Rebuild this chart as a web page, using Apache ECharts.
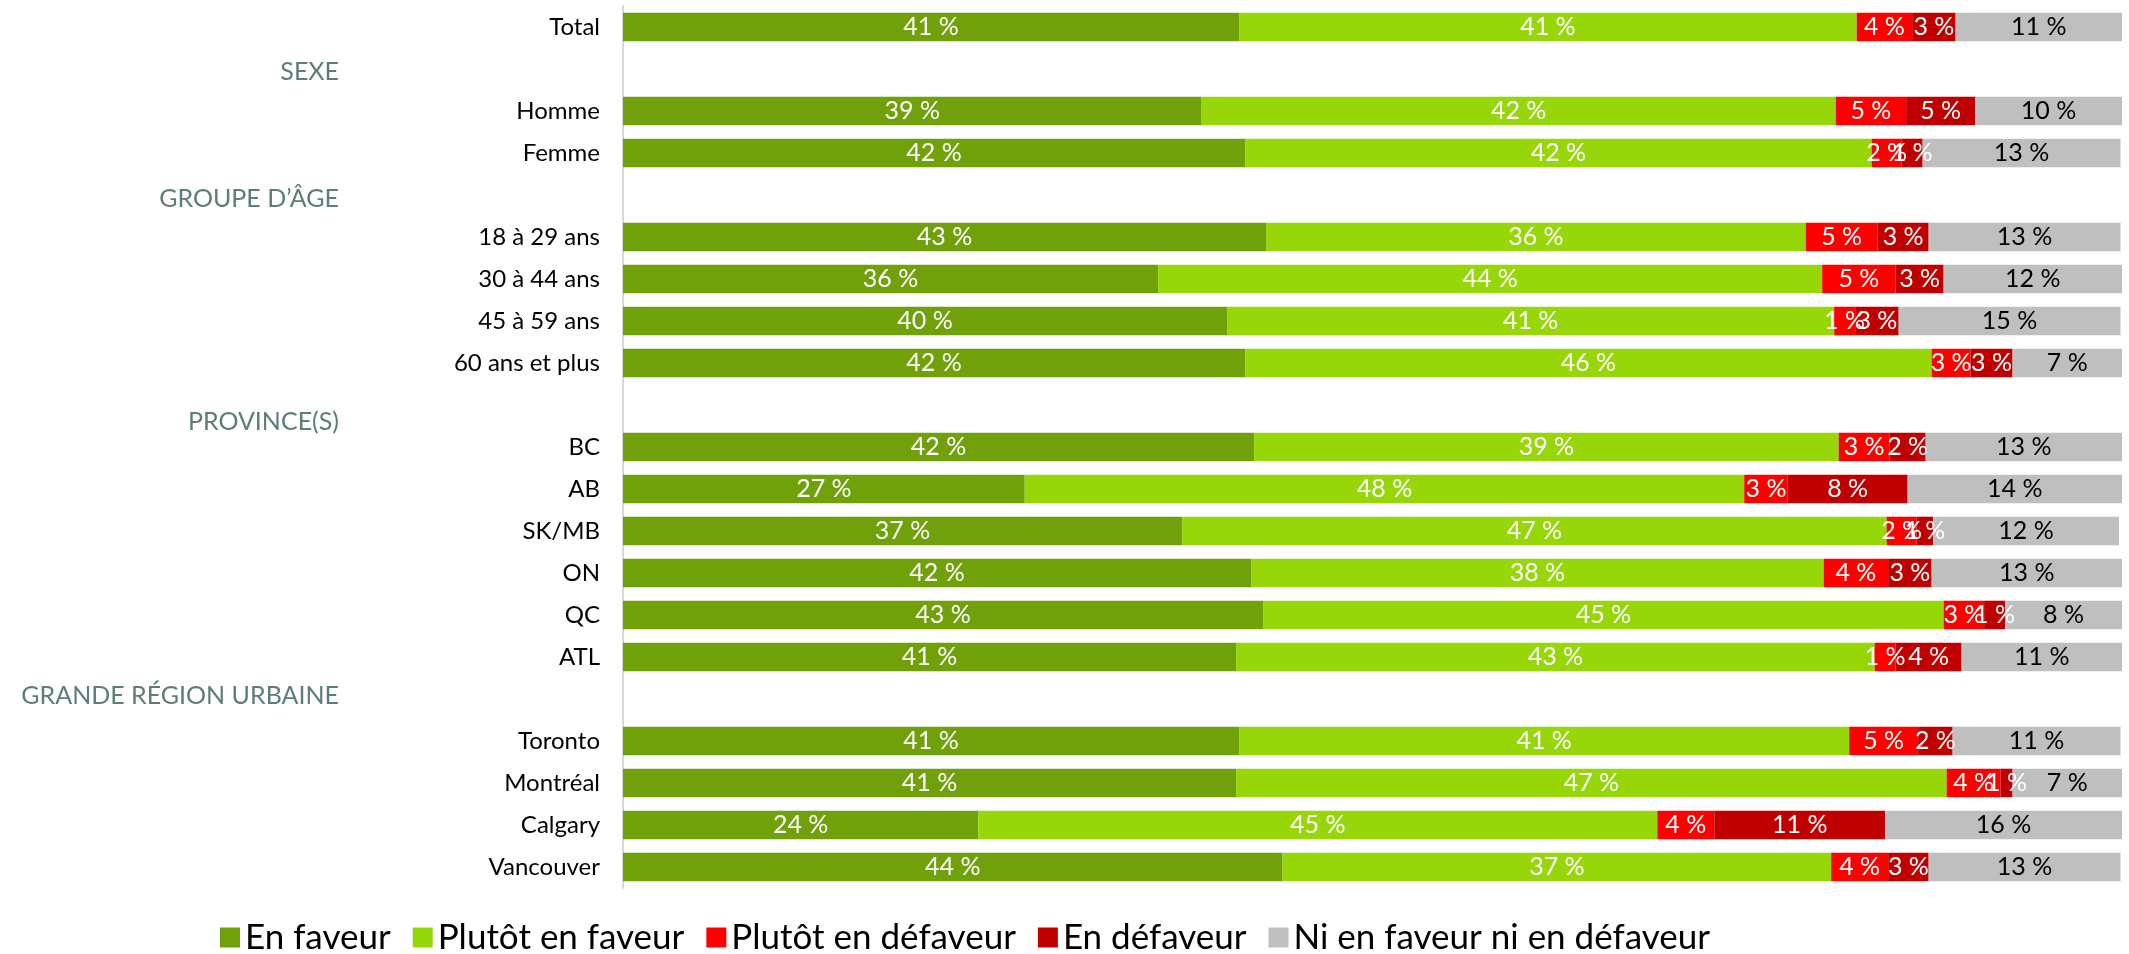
<!DOCTYPE html>
<html>
<head>
    <meta charset="utf-8">
    <title>En faveur / en défaveur</title>
    <script src="https://cdn.jsdelivr.net/npm/echarts@6/dist/echarts.min.js"></script>
</head>
<body style="margin:0;background:#fff">
    <div id="main" style="width:2129px;height:954px"></div>
    <script type="text/javascript">

        const CATEGORIES = [
            'Total', 'SEXE', 'Homme', 'Femme',
            'GROUPE D’ÂGE', '18 à 29 ans', '30 à 44 ans', '45 à 59 ans', '60 ans et plus',
            'PROVINCE(S)', 'BC', 'AB', 'SK/MB', 'ON', 'QC', 'ATL',
            'GRANDE RÉGION URBAINE', 'Toronto', 'Montréal', 'Calgary', 'Vancouver'
        ];
        // rows with no bars, drawn as section titles
        const HEADERS = ['SEXE', 'GROUPE D’ÂGE', 'PROVINCE(S)', 'GRANDE RÉGION URBAINE'];

        const SERIES_NAMES = ['En faveur', 'Plutôt en faveur', 'Plutôt en défaveur', 'En défaveur', 'Ni en faveur ni en défaveur'];
        const COLORS = ['#70A00A', '#97D70A', '#FF0000', '#C00000', '#BFBFBF'];
        const LABEL_COLORS = ['#fff', '#fff', '#fff', '#fff', '#000'];

        const EN_FAVEUR = [41.1, null, 38.6, 41.5, null, 42.9, 35.7, 40.3, 41.5, null, 42.1, 26.8, 37.3, 41.9, 42.7, 40.9, null, 41.1, 40.9, 23.7, 44.0];
        const PLUTOT_FAVEUR = [41.2, null, 42.3, 41.8, null, 36.0, 44.3, 40.5, 45.8, null, 39.0, 48.0, 47.0, 38.2, 45.4, 42.6, null, 40.7, 47.4, 45.3, 36.6];
        const PLUTOT_DEFAVEUR = [3.7, null, 4.7, 2.0, null, 4.8, 4.9, 1.4, 2.6, null, 3.4, 2.9, 2.0, 4.3, 2.7, 1.4, null, 4.6, 3.6, 3.8, 3.8];
        const EN_DEFAVEUR = [2.9, null, 4.6, 1.4, null, 3.4, 3.2, 2.9, 2.8, null, 2.4, 8.0, 1.1, 2.9, 1.4, 4.4, null, 2.3, 0.8, 11.4, 2.7];
        const NI_NI = [11.1, null, 10.0, 13.2, null, 12.8, 12.0, 14.8, 7.4, null, 13.1, 14.3, 12.4, 12.7, 7.8, 10.7, null, 11.2, 7.3, 15.8, 12.8];

        const VALUES = [EN_FAVEUR, PLUTOT_FAVEUR, PLUTOT_DEFAVEUR, EN_DEFAVEUR, NI_NI];
        const FONT = 'Lato, "Open Sans", sans-serif';

        // section titles sit a little off their row in the original
        const HEADER_SHIFT = { 'SEXE': 3, 'GROUPE D’ÂGE': 4, 'PROVINCE(S)': 17, 'GRANDE RÉGION URBAINE': -3 };

        let myChart = echarts.init(document.getElementById('main'));

        function buildSeries() {
            let series = [];
            for (let i = 0; i < SERIES_NAMES.length; i++) {
                series.push({
                    name: SERIES_NAMES[i],
                    type: 'bar',
                    stack: 'total',
                    barCategoryGap: '32%',
                    data: VALUES[i],
                    itemStyle: {
                        color: COLORS[i]
                    },
                    label: {
                        show: true,
                        position: 'inside',
                        color: LABEL_COLORS[i],
                        fontFamily: FONT,
                        fontSize: 25,
                        formatter: function (p) {
                            return Math.round(p.value) + ' %';
                        }
                    }
                });
            }
            return series;
        }

        function buildRich() {
            let rich = {
                c: { color: '#000', fontFamily: FONT, fontSize: 24 }
            };
            HEADERS.forEach(function (h, i) {
                let s = HEADER_SHIFT[h];
                rich['h' + i] = {
                    color: '#5E7C78',
                    fontFamily: FONT,
                    fontSize: 25,
                    padding: [s > 0 ? 2 * s : 0, 261, s < 0 ? -2 * s : 0, 0]
                };
            });
            return rich;
        }

        const option = {
            animation: false,
            color: COLORS,
            grid: {
                left: 623,
                right: 7,
                top: 6,
                bottom: 66
            },
            legend: {
                data: SERIES_NAMES,
                left: 215,
                top: 915,
                icon: 'rect',
                itemWidth: 20,
                itemHeight: 20,
                itemGap: 22,
                textStyle: {
                    fontFamily: FONT,
                    fontSize: 35,
                    color: '#000'
                }
            },
            xAxis: {
                type: 'value',
                min: 0,
                max: 100,
                show: false
            },
            yAxis: {
                type: 'category',
                inverse: true,
                data: CATEGORIES,
                axisTick: { show: false },
                axisLine: {
                    lineStyle: { color: '#D9D9D9', width: 2 }
                },
                axisLabel: {
                    margin: 23,
                    fontFamily: FONT,
                    formatter: function (v) {
                        let k = HEADERS.indexOf(v);
                        return k >= 0 ? '{h' + k + '|' + v + '}' : '{c|' + v + '}';
                    },
                    rich: buildRich()
                }
            },
            series: buildSeries()
        };

        myChart.setOption(option);

    </script>
</body>
</html>
